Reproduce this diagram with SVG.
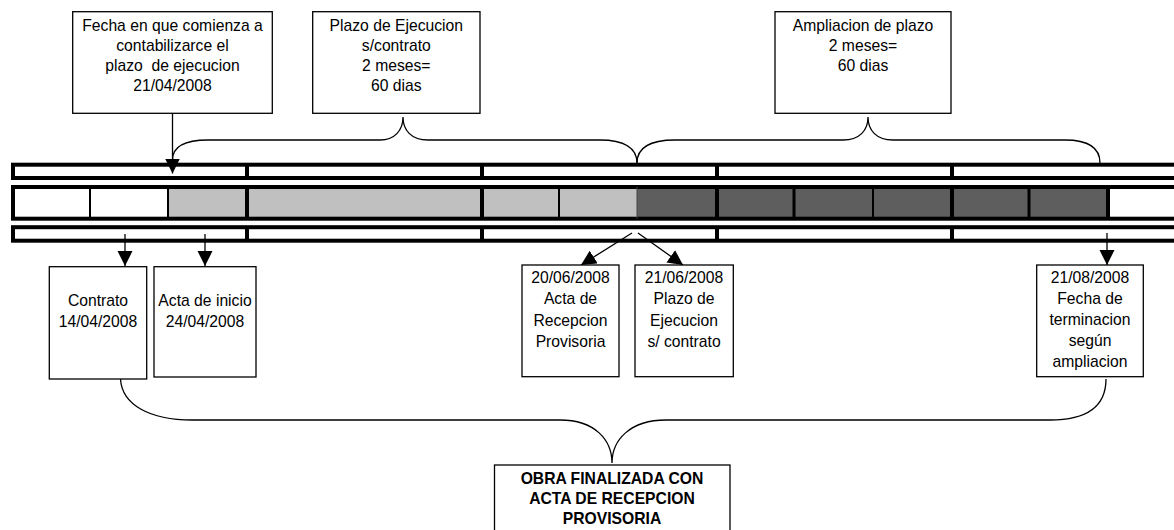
<svg xmlns="http://www.w3.org/2000/svg" width="1174" height="530" viewBox="0 0 1174 530">
<defs>
<style>
.box{fill:#fff;stroke:#000;stroke-width:1.3}
.t{font-family:"Liberation Sans",Arial,sans-serif;font-size:15.7px;fill:#000;text-anchor:middle}
.tb{font-family:"Liberation Sans",Arial,sans-serif;font-size:15.7px;font-weight:bold;fill:#000;text-anchor:middle}
.row{fill:#fff;stroke:#000;stroke-width:4}
.thick{stroke:#000;stroke-width:4}
.mid{stroke:#000;stroke-width:3}
.thin{stroke:#000;stroke-width:2}
.gray{fill:#c0c0c0}
.dark{fill:#5e5e5e}
.arr{fill:none;stroke:#000;stroke-width:1.3}
.brace{fill:none;stroke:#000;stroke-width:1.3}
</style>
<marker id="ah" markerWidth="16" markerHeight="16" refX="15" refY="7.5" orient="auto" markerUnits="userSpaceOnUse">
<path d="M0,0 L15,7.5 L0,15 z" fill="#000"/>
</marker>
</defs>

<g id="timeline">
<rect class="row" x="13" y="164.7" width="1180" height="13.3"/>
<rect class="row" x="13" y="227.2" width="1180" height="13.5"/>
<rect x="13" y="187" width="1180" height="31.7" fill="#fff"/>
<rect class="gray" x="168" y="187" width="469" height="31.7"/>
<rect class="dark" x="637" y="187" width="471" height="31.7"/>
<rect x="13" y="187" width="1180" height="31.7" fill="none" stroke="#000" stroke-width="4"/>
<line class="thick" x1="247" y1="164.7" x2="247" y2="178"/>
<line class="thick" x1="482" y1="164.7" x2="482" y2="178"/>
<line class="thick" x1="717" y1="164.7" x2="717" y2="178"/>
<line class="thick" x1="952" y1="164.7" x2="952" y2="178"/>
<line class="thick" x1="247" y1="227.2" x2="247" y2="240.7"/>
<line class="thick" x1="482" y1="227.2" x2="482" y2="240.7"/>
<line class="thick" x1="717" y1="227.2" x2="717" y2="240.7"/>
<line class="thick" x1="952" y1="227.2" x2="952" y2="240.7"/>
<line class="thin" x1="90" y1="187" x2="90" y2="218.7" stroke="#333"/>
<line class="thin" x1="168" y1="187" x2="168" y2="218.7"/>
<line class="thick" x1="247" y1="187" x2="247" y2="218.7"/>
<line class="thick" x1="482" y1="187" x2="482" y2="218.7"/>
<line class="thin" x1="559" y1="187" x2="559" y2="218.7"/>
<line x1="637" y1="187" x2="637" y2="218.7" stroke="#444" stroke-width="1"/>
<line class="thick" x1="717" y1="187" x2="717" y2="218.7"/>
<line class="mid" x1="794" y1="187" x2="794" y2="218.7"/>
<line class="thin" x1="873" y1="187" x2="873" y2="218.7"/>
<line class="thick" x1="952" y1="187" x2="952" y2="218.7"/>
<line class="mid" x1="1029" y1="187" x2="1029" y2="218.7"/>
<line class="thick" x1="1108" y1="187" x2="1108" y2="218.7"/>
</g>

<g id="connectors">
<line class="arr" x1="172.5" y1="113.3" x2="172.5" y2="173.5" marker-end="url(#ah)"/>
<line class="arr" x1="125" y1="234" x2="125" y2="266" marker-end="url(#ah)"/>
<line class="arr" x1="205" y1="234" x2="205" y2="266" marker-end="url(#ah)"/>
<line class="arr" x1="632" y1="233" x2="581" y2="265" marker-end="url(#ah)"/>
<line class="arr" x1="638" y1="233" x2="683" y2="265" marker-end="url(#ah)"/>
<line class="arr" x1="1107" y1="233" x2="1107" y2="265" marker-end="url(#ah)"/>
<path class="brace" d="M172.5,160 C172.5,147 185,140 208,140 L380,140 C395,140 403,130 403,117 C403,130 411,140 428,140 L600,140 C624,140 637,148 637,163"/>
<path class="brace" d="M637,163 C637,148 650,140 675,140 L843,140 C860,140 868,130 868,117 C868,130 876,140 893,140 L1065,140 C1088,140 1100,148 1100,163"/>
<path class="brace" d="M120.5,379 C122,405 150,420 192,420 L560,420 C595,420 612,440 612,463 C612,440 630,420 666,420 L1050,420 C1090,420 1106,405 1106,379"/>
</g>

<g id="box-fecha">
<rect class="box" x="72.7" y="11.7" width="199.6" height="101.6"/>
<text class="t" x="172.5" y="30.5">Fecha en que comienza a</text>
<text class="t" x="172.5" y="50.5">contabilizarce el</text>
<text class="t" x="172.5" y="70.5" xml:space="preserve">plazo  de ejecucion</text>
<text class="t" x="172.5" y="90.5">21/04/2008</text>
</g>

<g id="box-plazo">
<rect class="box" x="312.7" y="11.7" width="167.3" height="101.6"/>
<text class="t" x="396.3" y="30.5">Plazo de Ejecucion</text>
<text class="t" x="396.3" y="50.5">s/contrato</text>
<text class="t" x="396.3" y="70.5">2 meses=</text>
<text class="t" x="396.3" y="90.5">60 dias</text>
</g>

<g id="box-ampliacion">
<rect class="box" x="775" y="11.7" width="176" height="101.6"/>
<text class="t" x="863" y="30.5">Ampliacion de plazo</text>
<text class="t" x="863" y="50.5">2 meses=</text>
<text class="t" x="863" y="70.5">60 dias</text>
</g>

<g id="box-contrato">
<rect class="box" x="49.3" y="266.7" width="97.4" height="112.3"/>
<text class="t" x="98" y="306">Contrato</text>
<text class="t" x="98" y="326.5">14/04/2008</text>
</g>

<g id="box-acta-inicio">
<rect class="box" x="154" y="266.7" width="102" height="110.3"/>
<text class="t" x="205" y="306">Acta de inicio</text>
<text class="t" x="205" y="326.5">24/04/2008</text>
</g>

<g id="box-acta-recepcion">
<rect class="box" x="522" y="265" width="97" height="111.7"/>
<text class="t" x="570.5" y="282.5">20/06/2008</text>
<text class="t" x="570.5" y="304">Acta de</text>
<text class="t" x="570.5" y="325.5">Recepcion</text>
<text class="t" x="570.5" y="346.5">Provisoria</text>
</g>

<g id="box-plazo-contrato">
<rect class="box" x="635" y="265" width="98.3" height="111.7"/>
<text class="t" x="684" y="282.5">21/06/2008</text>
<text class="t" x="684" y="304">Plazo de</text>
<text class="t" x="684" y="325.5">Ejecucion</text>
<text class="t" x="684" y="346.5">s/ contrato</text>
</g>

<g id="box-terminacion">
<rect class="box" x="1036.7" y="265" width="106.6" height="111.7"/>
<text class="t" x="1090" y="282.5">21/08/2008</text>
<text class="t" x="1090" y="304">Fecha de</text>
<text class="t" x="1090" y="325">terminacion</text>
<text class="t" x="1090" y="346">según</text>
<text class="t" x="1090" y="367">ampliacion</text>
</g>

<g id="box-obra">
<rect class="box" x="494.5" y="465" width="235.5" height="75"/>
<text class="tb" x="612" y="484">OBRA FINALIZADA CON</text>
<text class="tb" x="612" y="504">ACTA DE RECEPCION</text>
<text class="tb" x="612" y="524">PROVISORIA</text>
</g>
</svg>
